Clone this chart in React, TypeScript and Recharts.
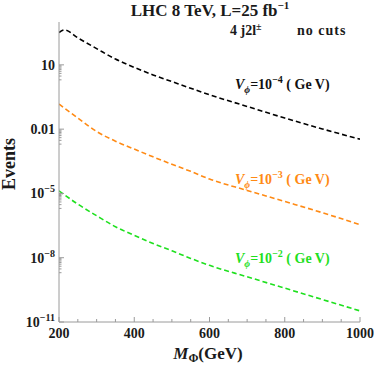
import React from 'react';
import { LineChart, Line, XAxis, YAxis, Customized } from 'recharts';

// Mass of the scalar (GeV)
const massBlack = [200, 215, 250, 300, 350, 400, 450, 500, 550, 600, 700, 800, 900, 1000];
const massColor = [200, 250, 300, 350, 400, 450, 500, 550, 600, 700, 800, 900, 1000];

// Events, V_phi = 1e-4 GeV
const eventsVm4 = [324, 427, 182, 57.5, 18.6, 7.6, 3.4, 1.66, 0.81, 0.40, 0.115, 0.033, 0.0102, 0.0034];
// Events, V_phi = 1e-3 GeV
const eventsVm3 = [0.148, 0.0331, 0.00776, 0.00275, 0.00117, 5.1e-4, 2.29e-4, 1.07e-4, 4.7e-5, 1.38e-5, 4.2e-6, 1.26e-6, 3.5e-7];
// Events, V_phi = 1e-2 GeV
const eventsVm2 = [1.32e-5, 3.16e-6, 9.1e-7, 2.8e-7, 1.1e-7, 4.6e-8, 2.1e-8, 9.3e-9, 4.4e-9, 1.29e-9, 3.8e-10, 1.12e-10, 3.3e-11];

const xTicks = [200, 250, 300, 350, 400, 450, 500, 550, 600, 650, 700, 750, 800, 850, 900, 950, 1000];
const xLabelTicks = [200, 400, 600, 800, 1000];
const yMajorExp = [1, -2, -5, -8, -11];
const yMajorLabels = ['10', '0.01', '10|−5', '10|−8', '10|−11'];

const yMajor = yMajorExp.map((e) => Math.pow(10, e));
const yMinor: number[] = [];
yMajorExp.forEach((e) => {
  if (e - 1 < -11) return;
  for (let m = 2; m <= 9; m++) yMinor.push(m * Math.pow(10, e - 1));
});
const yTicks = [...yMajor, ...yMinor];

const blackData = massBlack.map((m, i) => ({ x: m, y: eventsVm4[i] }));
const orangeData = massColor.map((m, i) => ({ x: m, y: eventsVm3[i] }));
const greenData = massColor.map((m, i) => ({ x: m, y: eventsVm2[i] }));

const FONT = '"Liberation Serif", "Times New Roman", serif';
const FRAME = '#9a9a9a';
const ORANGE = '#ff8a14';
const GREEN = '#1fe01f';
const TXT = '#1a1a1a';

const isMajorY = (v: number) => yMajor.some((m) => Math.abs(m - v) / m < 1e-9);

const BottomTick = (props: any) => {
  const { x, y, payload } = props;
  const v = payload.value;
  const major = xLabelTicks.includes(v);
  return (
    <g>
      <line x1={x} x2={x} y1={y} y2={y - (major ? 5 : 3)} stroke={FRAME} strokeWidth={1} />
      {major && (
        <text x={x} y={y + 16} textAnchor="middle" fontFamily={FONT} style={{ fontWeight: 700 }} fontSize={14} fill={TXT}>
          {v}
        </text>
      )}
    </g>
  );
};

const TopTick = (props: any) => {
  const { x, y, payload } = props;
  const major = xLabelTicks.includes(payload.value);
  return <line x1={x} x2={x} y1={y} y2={y + (major ? 5 : 3)} stroke={FRAME} strokeWidth={1} />;
};

const LeftTick = (props: any) => {
  const { x, y, payload } = props;
  const v = payload.value;
  const major = isMajorY(v);
  let label: React.ReactNode = null;
  if (major) {
    const idx = yMajor.findIndex((m) => Math.abs(m - v) / m < 1e-9);
    const parts = yMajorLabels[idx].split('|');
    label = (
      <text x={x - 4} y={y + 5} textAnchor="end" fontFamily={FONT} style={{ fontWeight: 700 }} fontSize={14} fill={TXT}>
        {parts[0]}
        {parts[1] && (
          <tspan fontSize={10} dy={-6}>
            {parts[1]}
          </tspan>
        )}
      </text>
    );
  }
  return (
    <g>
      <line x1={x} x2={x + (major ? 5 : 2.5)} y1={y} y2={y} stroke={FRAME} strokeWidth={1} />
      {label}
    </g>
  );
};

const RightTick = (props: any) => {
  const { x, y, payload } = props;
  const major = isMajorY(payload.value);
  return <line x1={x} x2={x - (major ? 5 : 2.5)} y1={y} y2={y} stroke={FRAME} strokeWidth={1} />;
};

const SeriesLabel = ({ x, y, exp, color }: { x: number; y: number; exp: string; color: string }) => (
  <text x={x} y={y} fontFamily={FONT} style={{ fontWeight: 700 }} fontSize={14} fill={color}>
    <tspan fontStyle="italic">V</tspan>
    <tspan fontStyle="italic" fontSize={10} dy={4}>ϕ</tspan>
    <tspan dy={-4}>=10</tspan>
    <tspan fontSize={10} dy={-6}>{exp}</tspan>
    <tspan dy={6}>{' ( Ge V)'}</tspan>
  </text>
);

const Annotations = () => (
  <g>
    <text x={210} y={16} textAnchor="middle" fontFamily={FONT} style={{ fontWeight: 700 }} fontSize={17} fill={TXT}>
      LHC 8 TeV, L=25 fb
      <tspan fontSize={11} dy={-7}>−1</tspan>
    </text>
    <text x={230} y={35} fontFamily={FONT} style={{ fontWeight: 700 }} fontSize={14} fill={TXT}>
      4 j2l
      <tspan fontSize={10} dy={-5}>±</tspan>
    </text>
    <text x={297} y={35} fontFamily={FONT} style={{ fontWeight: 700 }} fontSize={14} fill={TXT} letterSpacing={1}>
      no  cuts
    </text>
    <SeriesLabel x={235} y={89} exp="−4" color="#111" />
    <SeriesLabel x={235} y={184} exp="−3" color={ORANGE} />
    <SeriesLabel x={235} y={263} exp="−2" color={GREEN} />
    <text
      x={0}
      y={0}
      transform="translate(15,164) rotate(-90)"
      textAnchor="middle"
      fontFamily={FONT}
      style={{ fontWeight: 700 }}
      fontSize={18}
      fill={TXT}
    >
      Events
    </text>
    <text x={208} y={359} textAnchor="middle" fontFamily={FONT} style={{ fontWeight: 700 }} fontSize={17} fill={TXT}>
      <tspan fontStyle="italic">M</tspan>
      <tspan fontSize={12} dy={3}>Φ</tspan>
      <tspan dy={-3}>(GeV)</tspan>
    </text>
  </g>
);

export default function App() {
  return (
    <div style={{ position: 'absolute', left: 0, top: 0, width: 374, height: 365, background: '#fff' }}>
      <LineChart width={374} height={365} margin={{ top: 22, right: 14, left: 0, bottom: 0 }}>
        <XAxis
          xAxisId="b"
          dataKey="x"
          type="number"
          domain={[200, 1000]}
          allowDataOverflow
          ticks={xTicks}
          interval={0}
          height={43}
          tickSize={0}
          tickMargin={0}
          tickLine={false}
          axisLine={{ stroke: FRAME }}
          tick={<BottomTick />}
        />
        <XAxis
          xAxisId="t"
          orientation="top"
          dataKey="x"
          type="number"
          domain={[200, 1000]}
          allowDataOverflow
          ticks={xTicks}
          interval={0}
          height={0}
          tickSize={0}
          tickMargin={0}
          tickLine={false}
          axisLine={{ stroke: FRAME }}
          tick={<TopTick />}
        />
        <YAxis
          yAxisId="l"
          scale="log"
          type="number"
          domain={[1e-11, 1e3]}
          allowDataOverflow
          ticks={yTicks}
          interval={0}
          width={59}
          tickSize={0}
          tickMargin={0}
          tickLine={false}
          axisLine={{ stroke: FRAME }}
          tick={<LeftTick />}
        />
        <YAxis
          yAxisId="r"
          orientation="right"
          scale="log"
          type="number"
          domain={[1e-11, 1e3]}
          allowDataOverflow
          ticks={yTicks}
          interval={0}
          width={0}
          tickSize={0}
          tickMargin={0}
          tickLine={false}
          axisLine={{ stroke: FRAME }}
          tick={<RightTick />}
        />
        <Line
          xAxisId="b"
          yAxisId="l"
          data={blackData}
          dataKey="y"
          type="monotone"
          stroke="#000"
          strokeWidth={1.6}
          strokeDasharray="5 3"
          dot={false}
          isAnimationActive={false}
        />
        <Line
          xAxisId="b"
          yAxisId="l"
          data={orangeData}
          dataKey="y"
          type="monotone"
          stroke={ORANGE}
          strokeWidth={1.6}
          strokeDasharray="5 3"
          dot={false}
          isAnimationActive={false}
        />
        <Line
          xAxisId="b"
          yAxisId="l"
          data={greenData}
          dataKey="y"
          type="monotone"
          stroke={GREEN}
          strokeWidth={1.6}
          strokeDasharray="5 3"
          dot={false}
          isAnimationActive={false}
        />
        <Customized component={Annotations} />
      </LineChart>
    </div>
  );
}
